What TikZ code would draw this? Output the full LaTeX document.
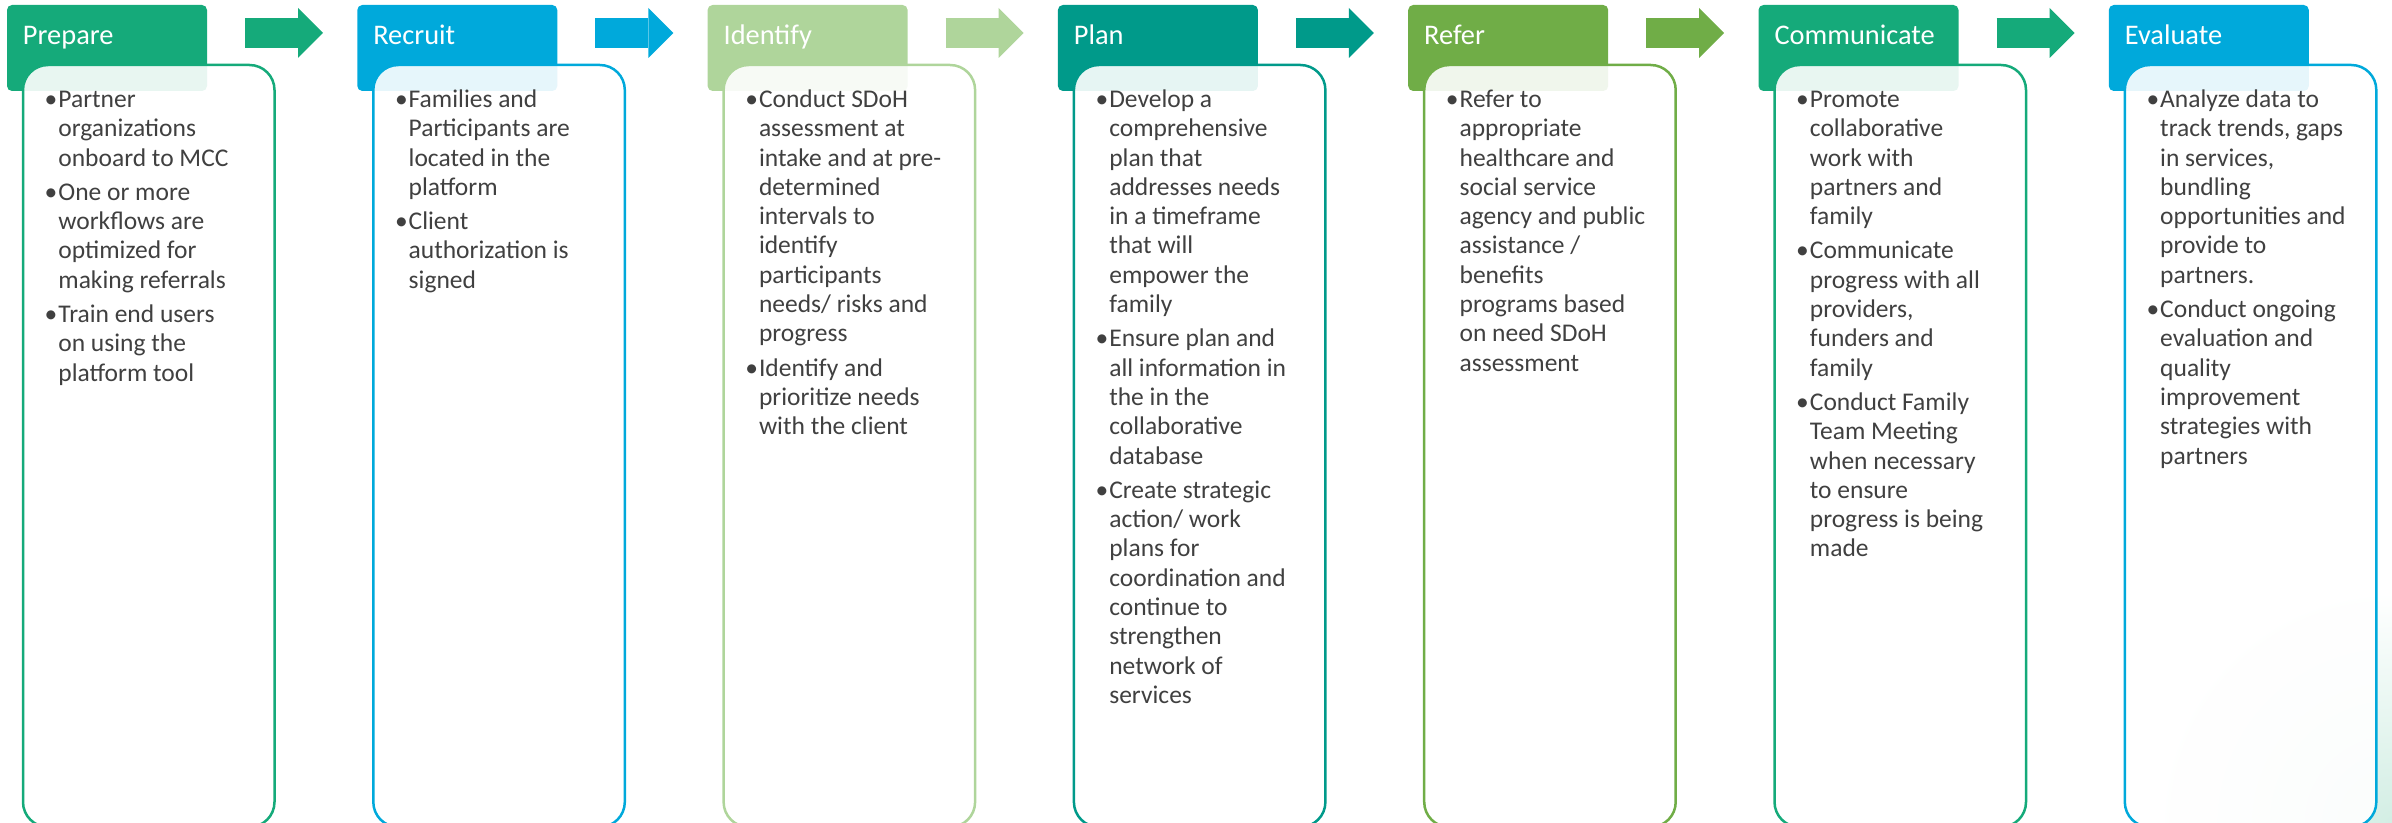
\documentclass[tikz,border=0pt]{standalone}
\usepackage{fontspec}
\setmainfont{Carlito}
\usetikzlibrary{positioning,arrows.meta}

\definecolor{stepgreen}{HTML}{15AA7A}
\definecolor{stepblue}{HTML}{00A9DB}
\definecolor{steplight}{HTML}{AFD59B}
\definecolor{stepteal}{HTML}{009A8A}
\definecolor{stepleaf}{HTML}{70AD47}
\definecolor{bodytext}{HTML}{404040}
\definecolor{mist}{HTML}{D3EEE4}

% bullet hung into the left margin of a list
\newcommand{\bul}{\strut\llap{\textbullet\hspace{0.5pt}}}

\begin{document}
\begin{tikzpicture}[x=0.5pt, y=-0.5pt,
        stage/.style={fill=#1, rounded corners=2.5pt, text=white, font=\fontsize{14.2}{17}\selectfont,
            text width=84pt, align=left, inner xsep=8pt, inner ysep=0pt, text height=20pt, text depth=23pt, outer sep=0pt},
        card/.style={draw=#1, line width=1.25pt, fill=white, fill opacity=0.9, rounded corners=12.5pt,
            minimum width=125.75pt, minimum height=381pt, inner sep=0pt, outer sep=0pt},
        list/.style={align=left, inner sep=0pt, text=bodytext, font=\fontsize{12.75}{14.65}\selectfont},
        flow/.style={draw=#1, line width=15pt, -{Triangle[length=12.5pt,width=25pt,line width=0pt]},
            shorten <=19pt, shorten >=17.15pt}]
    \clip (0,0) rectangle (2392,823);
    \shade[inner color=mist, outer color=white] (2392,823) circle (230);

    % stage headers
    \node[stage=stepgreen, anchor=north west] (Prep) at (7,5) {Prepare};
    \node[stage=stepblue, right=75.15pt of Prep] (Recr) {Recruit};
    \node[stage=steplight, right=75.15pt of Recr] (Iden) {Identify};
    \node[stage=stepteal, right=75.15pt of Iden] (Plan) {Plan};
    \node[stage=stepleaf, right=75.15pt of Plan] (Refr) {Refer};
    \node[stage=stepgreen, right=75.15pt of Refr] (Comm) {Communicate};
    \node[stage=stepblue, right=75.15pt of Comm] (Eval) {Evaluate};

    % cards laid over the headers
    \node[card=stepgreen, below right=30pt and 8pt of Prep.north west] (PrepBox) {};
    \node[card=stepblue, below right=30pt and 8pt of Recr.north west] (RecrBox) {};
    \node[card=steplight, below right=30pt and 8pt of Iden.north west] (IdenBox) {};
    \node[card=stepteal, below right=30pt and 8pt of Plan.north west] (PlanBox) {};
    \node[card=stepleaf, below right=30pt and 8pt of Refr.north west] (RefrBox) {};
    \node[card=stepgreen, below right=30pt and 8pt of Comm.north west] (CommBox) {};
    \node[card=stepblue, below right=30pt and 8pt of Eval.north west] (EvalBox) {};

    \node[list, below right=10.75pt and 17.5pt of PrepBox.north west] (PrepTxt)
        {\bul Partner\\organizations\\onboard to MCC\\[2.5pt]
         \bul One or more\\workflows are\\optimized for\\making referrals\\[2.5pt]
         \bul Train end users\\on using the\\platform tool};
    \node[list, below right=10.75pt and 17.5pt of RecrBox.north west] (RecrTxt)
        {\bul Families and\\Participants are\\located in the\\platform\\[2.5pt]
         \bul Client\\authorization is\\signed};
    \node[list, below right=10.75pt and 17.5pt of IdenBox.north west] (IdenTxt)
        {\bul Conduct SDoH\\assessment at\\intake and at pre-\\determined\\intervals to\\identify\\participants\\needs/ risks and\\progress\\[2.5pt]
         \bul Identify and\\prioritize needs\\with the client};
    \node[list, below right=10.75pt and 17.5pt of PlanBox.north west] (PlanTxt)
        {\bul Develop a\\comprehensive\\plan that\\addresses needs\\in a timeframe\\that will\\empower the\\family\\[2.5pt]
         \bul Ensure plan and\\all information in\\the in the\\collaborative\\database\\[2.5pt]
         \bul Create strategic\\action/ work\\plans for\\coordination and\\continue to\\strengthen\\network of\\services};
    \node[list, below right=10.75pt and 17.5pt of RefrBox.north west] (RefrTxt)
        {\bul Refer to\\appropriate\\healthcare and\\social service\\agency and public\\assistance /\\benefits\\programs based\\on need SDoH\\assessment};
    \node[list, below right=10.75pt and 17.5pt of CommBox.north west] (CommTxt)
        {\bul Promote\\collaborative\\work with\\partners and\\family\\[2.5pt]
         \bul Communicate\\progress with all\\providers,\\funders and\\family\\[2.5pt]
         \bul Conduct Family\\Team Meeting\\when necessary\\to ensure\\progress is being\\made};
    \node[list, below right=10.75pt and 17.5pt of EvalBox.north west] (EvalTxt)
        {\bul Analyze data to\\track trends, gaps\\in services,\\bundling\\opportunities and\\provide to\\partners.\\[2.5pt]
         \bul Conduct ongoing\\evaluation and\\quality\\improvement\\strategies with\\partners};

    % block arrows between stages
    \draw[flow=stepgreen] ([yshift=7.5pt]Prep.east) -- ([yshift=7.5pt]Recr.west);
    \draw[flow=stepblue] ([yshift=7.5pt]Recr.east) -- ([yshift=7.5pt]Iden.west);
    \draw[flow=steplight] ([yshift=7.5pt]Iden.east) -- ([yshift=7.5pt]Plan.west);
    \draw[flow=stepteal] ([yshift=7.5pt]Plan.east) -- ([yshift=7.5pt]Refr.west);
    \draw[flow=stepleaf] ([yshift=7.5pt]Refr.east) -- ([yshift=7.5pt]Comm.west);
    \draw[flow=stepgreen] ([yshift=7.5pt]Comm.east) -- ([yshift=7.5pt]Eval.west);
\end{tikzpicture}
\end{document}
